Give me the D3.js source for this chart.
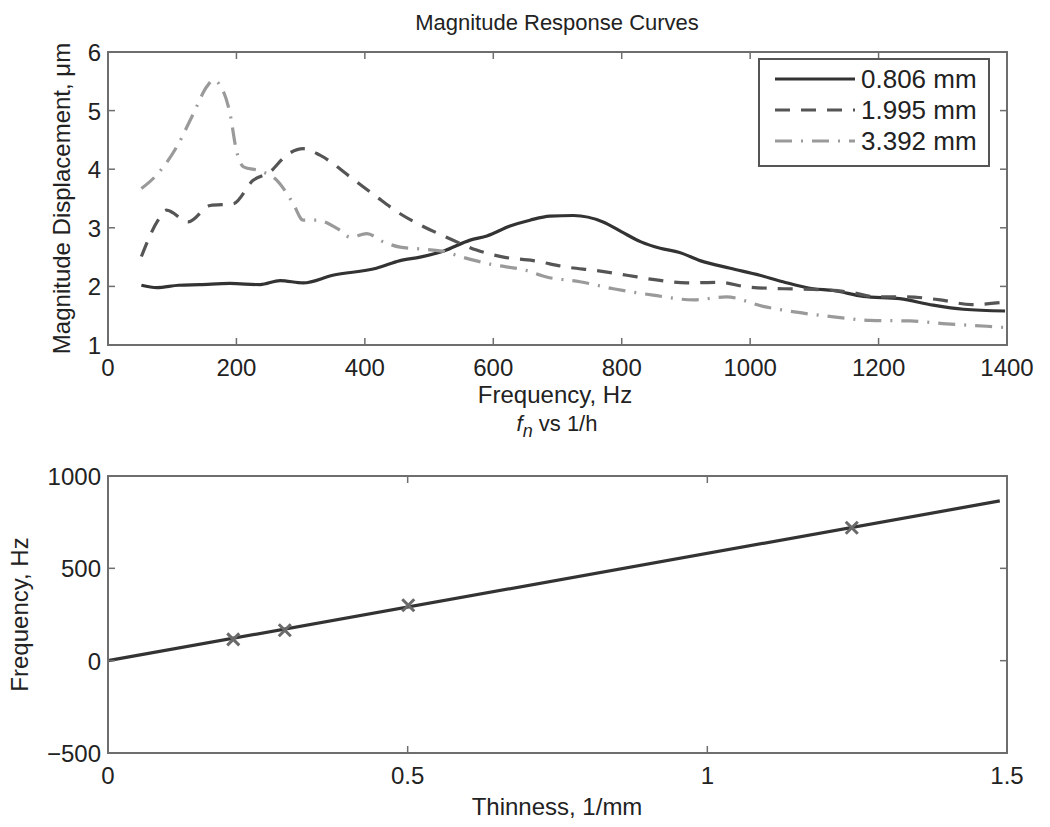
<!DOCTYPE html>
<html><head><meta charset="utf-8">
<script src="https://cdn.jsdelivr.net/npm/d3@7"></script>
<style>
body{margin:0;background:#fff;}
svg text{font-family:"Liberation Sans",Arial,sans-serif;fill:#222;}
</style></head>
<body><svg id="c" width="1050" height="827"></svg>
<script>
// ---- data ----
const seriesNames = ["0.806 mm", "1.995 mm", "3.392 mm"];
const freqA = [52,76,110,143,190,237,268,304,350,418,455,486,522,564,590,626,657,688,725,771,800,830,860,890,922,969,1015,1051,1098,1129,1176,1233,1285,1332,1397];
const magA  = [2.02,1.98,2.02,2.03,2.05,2.03,2.10,2.06,2.19,2.31,2.44,2.50,2.60,2.79,2.86,3.03,3.13,3.20,3.21,3.10,2.93,2.76,2.65,2.58,2.44,2.31,2.19,2.08,1.96,1.93,1.83,1.79,1.68,1.61,1.58];
const freqB = [52,78,91,125,159,195,226,252,278,304,330,377,418,455,486,527,574,616,662,714,761,808,854,901,953,995,1052,1098,1156,1197,1244,1296,1345,1394];
const magB  = [2.51,3.13,3.30,3.10,3.38,3.41,3.81,3.95,4.24,4.35,4.24,3.87,3.53,3.24,3.05,2.84,2.62,2.50,2.44,2.33,2.27,2.19,2.11,2.06,2.07,1.99,1.96,1.95,1.90,1.82,1.82,1.77,1.69,1.73];
const freqC = [52,73,107,133,154,164,174,190,200,211,237,263,288,304,325,361,377,403,429,455,486,527,543,595,652,683,735,787,849,912,963,1020,1072,1130,1187,1249,1306,1369,1395];
const magC  = [3.67,3.87,4.38,4.95,5.41,5.52,5.44,4.95,4.32,4.04,3.97,3.81,3.42,3.13,3.13,2.96,2.84,2.90,2.76,2.67,2.64,2.59,2.53,2.38,2.27,2.16,2.08,1.96,1.85,1.77,1.82,1.66,1.56,1.48,1.42,1.41,1.36,1.32,1.30];
const topXTicks = [0,200,400,600,800,1000,1200,1400];
const topYTicks = [1,2,3,4,5,6];
const thinness = [0.209, 0.295, 0.501, 1.241];
const natFreq  = [115, 165, 300, 720];
const fitX = [0, 1.488];
const fitY = [0, 865];
const botXTicks = [0, 0.5, 1, 1.5];
const botYTicks = [-500, 0, 500, 1000];

// ---- layout ----
const svg = d3.select("#c");
const axisCol = "#6e6e6e";
const tp = {l:108, r:1007, t:52, b:345};
const bp = {l:108, r:1007, t:476, b:753};
const tickFont = 24;

function boxAxes(p, x, y, xt, yt, fmtX, fmtY){
  const g = svg.append("g");
  const tl = 7;
  g.append("rect").attr("x",p.l).attr("y",p.t).attr("width",p.r-p.l).attr("height",p.b-p.t)
    .attr("fill","none").attr("stroke",axisCol).attr("stroke-width",2);
  xt.forEach(v=>{
    const px = x(v);
    g.append("line").attr("x1",px).attr("x2",px).attr("y1",p.b).attr("y2",p.b-tl).attr("stroke",axisCol).attr("stroke-width",1.5);
    g.append("line").attr("x1",px).attr("x2",px).attr("y1",p.t).attr("y2",p.t+tl).attr("stroke",axisCol).attr("stroke-width",1.5);
    g.append("text").attr("x",px).attr("y",p.b+31).attr("text-anchor","middle").attr("font-size",tickFont).text(fmtX(v));
  });
  yt.forEach(v=>{
    const py = y(v);
    g.append("line").attr("x1",p.l).attr("x2",p.l+tl).attr("y1",py).attr("y2",py).attr("stroke",axisCol).attr("stroke-width",1.5);
    g.append("line").attr("x1",p.r).attr("x2",p.r-tl).attr("y1",py).attr("y2",py).attr("stroke",axisCol).attr("stroke-width",1.5);
    g.append("text").attr("x",p.l-7).attr("y",py+9).attr("text-anchor","end").attr("font-size",tickFont).text(fmtY(v));
  });
}

// top plot
const x1 = d3.scaleLinear().domain([0,1400]).range([tp.l,tp.r]);
const y1 = d3.scaleLinear().domain([1,6]).range([tp.b,tp.t]);
const line1 = d3.line().x(d=>x1(d[0])).y(d=>y1(d[1])).curve(d3.curveMonotoneX);
const styles = [
  {stroke:"#333", dash:null},
  {stroke:"#555", dash:"15,11"},
  {stroke:"#9a9a9a", dash:"17,9,2,9"}
];
const series = [d3.zip(freqA,magA), d3.zip(freqB,magB), d3.zip(freqC,magC)];
svg.append("defs").append("clipPath").attr("id","cp1").append("rect")
  .attr("x",tp.l).attr("y",tp.t).attr("width",tp.r-tp.l).attr("height",tp.b-tp.t);
series.forEach((s,i)=>{
  svg.append("path").attr("d",line1(s)).attr("fill","none").attr("stroke",styles[i].stroke)
    .attr("stroke-width",3.2).attr("stroke-dasharray",styles[i].dash).attr("clip-path","url(#cp1)");
});
boxAxes(tp, x1, y1, topXTicks, topYTicks, d3.format("d"), d3.format("d"));

// legend
const lg = svg.append("g");
lg.append("rect").attr("x",759).attr("y",59).attr("width",230).attr("height",107)
  .attr("fill","#fff").attr("stroke","#555").attr("stroke-width",2);
seriesNames.forEach((n,i)=>{
  const yy = 79 + i*31;
  lg.append("line").attr("x1",775).attr("x2",855).attr("y1",yy).attr("y2",yy)
    .attr("stroke",styles[i].stroke).attr("stroke-width",3.2).attr("stroke-dasharray",styles[i].dash);
  lg.append("text").attr("x",861).attr("y",yy+9).attr("font-size",26).text(n);
});

// titles/labels top
svg.append("text").attr("x",557).attr("y",30).attr("text-anchor","middle").attr("font-size",22).text("Magnitude Response Curves");
svg.append("text").attr("x",555).attr("y",403).attr("text-anchor","middle").attr("font-size",24).text("Frequency, Hz");
svg.append("text").attr("transform","translate(70,"+((tp.t+tp.b)/2)+") rotate(-90)").attr("text-anchor","middle").attr("font-size",24).text("Magnitude Displacement, \u03bcm");

// bottom plot
const x2 = d3.scaleLinear().domain([0,1.5]).range([bp.l,bp.r]);
const y2 = d3.scaleLinear().domain([-500,1000]).range([bp.b,bp.t]);
svg.append("path").attr("d",d3.line().x(d=>x2(d[0])).y(d=>y2(d[1]))(d3.zip(fitX,fitY)))
  .attr("fill","none").attr("stroke","#333").attr("stroke-width",3.2);
const ms = 6;
d3.zip(thinness,natFreq).forEach(d=>{
  const cx = x2(d[0]), cy = y2(d[1]);
  svg.append("path").attr("d",`M${cx-ms},${cy-ms}L${cx+ms},${cy+ms}M${cx-ms},${cy+ms}L${cx+ms},${cy-ms}`)
    .attr("stroke","#6a6a6a").attr("stroke-width",3);
});
boxAxes(bp, x2, y2, botXTicks, botYTicks, d=>String(d), d=>d<0?"\u2212"+Math.abs(d):String(d));

const t2 = svg.append("text").attr("x",557).attr("y",431).attr("text-anchor","middle").attr("font-size",22);
t2.append("tspan").attr("font-style","italic").text("f");
t2.append("tspan").attr("font-style","italic").attr("font-size",18).attr("dy",6).text("n");
t2.append("tspan").attr("dy",-6).text(" vs 1/h");
svg.append("text").attr("x",557).attr("y",815).attr("text-anchor","middle").attr("font-size",24).text("Thinness, 1/mm");
svg.append("text").attr("transform","translate(28,"+((bp.t+bp.b)/2)+") rotate(-90)").attr("text-anchor","middle").attr("font-size",24).text("Frequency, Hz");
</script></body></html>
